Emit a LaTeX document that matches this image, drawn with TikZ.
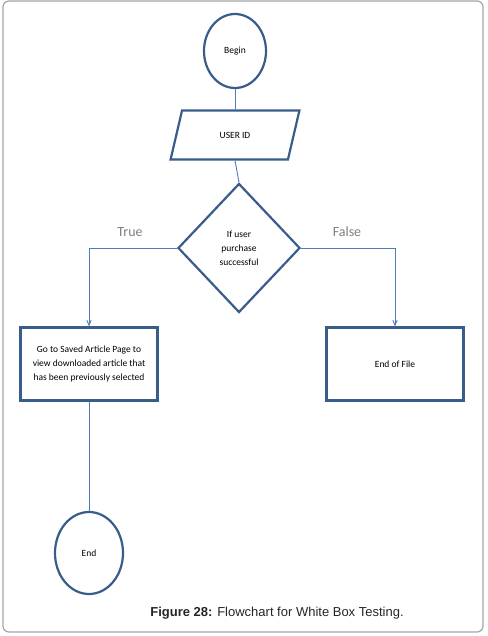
\documentclass[tikz,border=0pt]{standalone}
\usepackage{fontspec}
\setmainfont{Carlito}
\newfontfamily\capfont{Liberation Sans}
\usetikzlibrary{shapes}
\usetikzlibrary{arrows}
\definecolor{shapeblue}{RGB}{56,93,138}
\definecolor{lineblue}{RGB}{74,126,187}
\definecolor{framegray}{RGB}{165,165,165}
\tikzset{
	flownode/.style = {
		align=center,
		inner sep=0pt,
		text centered,
		font=\fontsize{9.5}{14}\selectfont,
		draw=shapeblue,
		line width=2.2pt
	},
	node_term/.style = {
		flownode,
		ellipse
	},
	node_io/.style = {
		flownode,
		trapezium,
		trapezium left angle=62,
		trapezium right angle=118,
		trapezium stretches=true,
		minimum width=129,
		minimum height=49
	},
	node_dec/.style = {
		flownode,
		diamond,
		minimum width=122,
		minimum height=129
	},
	node_proc/.style = {
		flownode,
		rectangle,
		minimum width=137,
		minimum height=73
	},
	link/.style = {
		draw=lineblue,
		line width=0.9pt
	},
	node_lbl/.style = {
		font=\fontsize{14}{16}\selectfont,
		text=black!50
	},
}

\begin{document}
\begin{tikzpicture}[x=1pt,y=-1pt,>=angle 45]
\useasboundingbox (0,0) rectangle (487,636);
\fill[white] (0,0) rectangle (487,636);
\draw[framegray, line width=1.2pt, rounded corners=6] (3,1) rectangle (483,632);
% shapes
\node [node_term, minimum width=62, minimum height=74] (begin) at (235,51) {Begin};
\node [node_io] (userid) at (235,135) {USER ID};
\node [node_dec] (check) at (239,248) {If user\\purchase\\successful};
\node [node_proc] (saved) at (89,364) {Go to Saved Article Page to\\view downloaded article that\\has been previously selected};
\node [node_proc] (eof) at (395,364) {End of File};
\node [node_term, minimum width=68, minimum height=82] (end) at (89,553) {End};
% labels
\node [node_lbl] (true) at (130,232) {True};
\node [node_lbl] (false) at (347,232) {False};
% links
\draw [link] (begin) -- (userid);
\draw [link] (userid.south) -- (check.north);
\draw [link,->] (check.west) -| (saved.north);
\draw [link,->] (check.east) -| (eof.north);
\draw [link] (saved) -- (end);
% caption
\node [font=\capfont\fontsize{13}{15}\selectfont, text=black!85] (caption) at (277,613) {\textbf{Figure 28:} Flowchart for White Box Testing.};
\end{tikzpicture}
\end{document}
